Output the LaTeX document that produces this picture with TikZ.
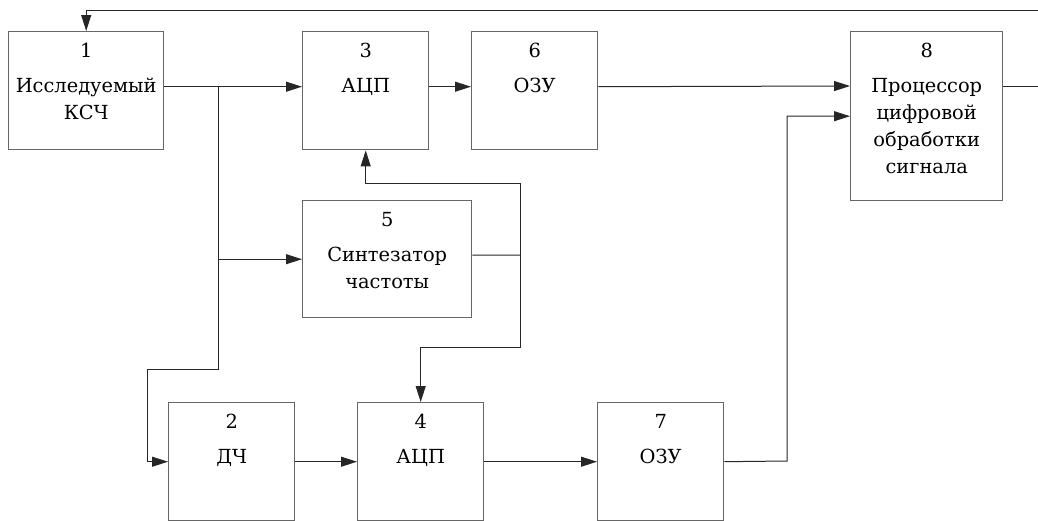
\documentclass[tikz,border=0pt]{standalone}
\usepackage{fontspec}
\setmainfont{DejaVu Serif}
\usetikzlibrary{arrows.meta}

\begin{document}
\begin{tikzpicture}[
  x=0.5pt,y=-0.5pt,
  font=\fontsize{9.7}{13.5}\selectfont,
  blk/.style={draw=black!60,line width=0.7pt,anchor=north west,inner sep=0pt,minimum height=59pt,minimum width=63pt},
  txt/.style={anchor=north,align=center,inner sep=6pt},
  arr/.style={-{Triangle[length=8pt,width=5pt]},draw=black!85,line width=0.5pt},
  wire/.style={draw=black!85,line width=0.5pt}
]
\useasboundingbox (0,0) rectangle (1038,520);

\node[blk,minimum width=77.5pt,label={[txt]north:{1\\[4pt]Исследуемый\\КСЧ}}] (ksch) at (8,31) {};
\node[blk,label={[txt]north:{3\\[4pt]АЦП}}] (adc1) at (302,31) {};
\node[blk,label={[txt]north:{6\\[4pt]ОЗУ}}] (ozu1) at (471,31) {};
\node[blk,minimum width=76pt,minimum height=84.5pt,label={[txt]north:{8\\[4pt]Процессор\\цифровой\\обработки\\сигнала}}] (proc) at (850,31) {};
\node[blk,minimum width=84.5pt,minimum height=58.5pt,label={[txt]north:{5\\[4pt]Синтезатор\\частоты}}] (synth) at (302,200) {};
\node[blk,label={[txt]north:{2\\[4pt]ДЧ}}] (dch) at (168,402) {};
\node[blk,label={[txt]north:{4\\[4pt]АЦП}}] (adc2) at (357,402) {};
\node[blk,label={[txt]north:{7\\[4pt]ОЗУ}}] (ozu2) at (597,402) {};

% branch points
\coordinate (split) at (218,86);
\coordinate (bend1) at (218,369);
\coordinate (bend2) at (147,369);
\coordinate (sbus) at (520,255);
\coordinate (sup1) at (520,183);
\coordinate (sdown) at (520,347);
\coordinate (rise) at (787,461);
\coordinate (fbout) at (1038,86);
\coordinate (fbin) at (1038,10);

\draw[arr] ([yshift=2pt]ksch.east) -- ([yshift=2pt]adc1.west);
\draw[arr] ([yshift=2pt]adc1.east) -- ([yshift=2pt]ozu1.west);
\draw[arr] ([yshift=2pt]ozu1.east) -- (split -| proc.west);
\draw[wire] (split) -- (bend1) -- (bend2);
\draw[arr] (bend2) |- (dch.west);
\draw[arr] (split |- synth.west) -- (synth.west);
\draw[wire] ([yshift=2pt]synth.east) -- (sbus);
\draw[arr] (sbus) -- (sup1) -| (adc1.south);
\draw[arr] (sbus) -- (sdown) -| (adc2.north);
\draw[arr] (dch.east) -- (adc2.west);
\draw[arr] (adc2.east) -- (ozu2.west);
\draw[arr] (ozu2.east) -- (rise) |- (proc.west);
\draw[wire] (fbout -| proc.east) -- (fbout);
\draw[arr] (fbin) -| (ksch.north);
\end{tikzpicture}
\end{document}
